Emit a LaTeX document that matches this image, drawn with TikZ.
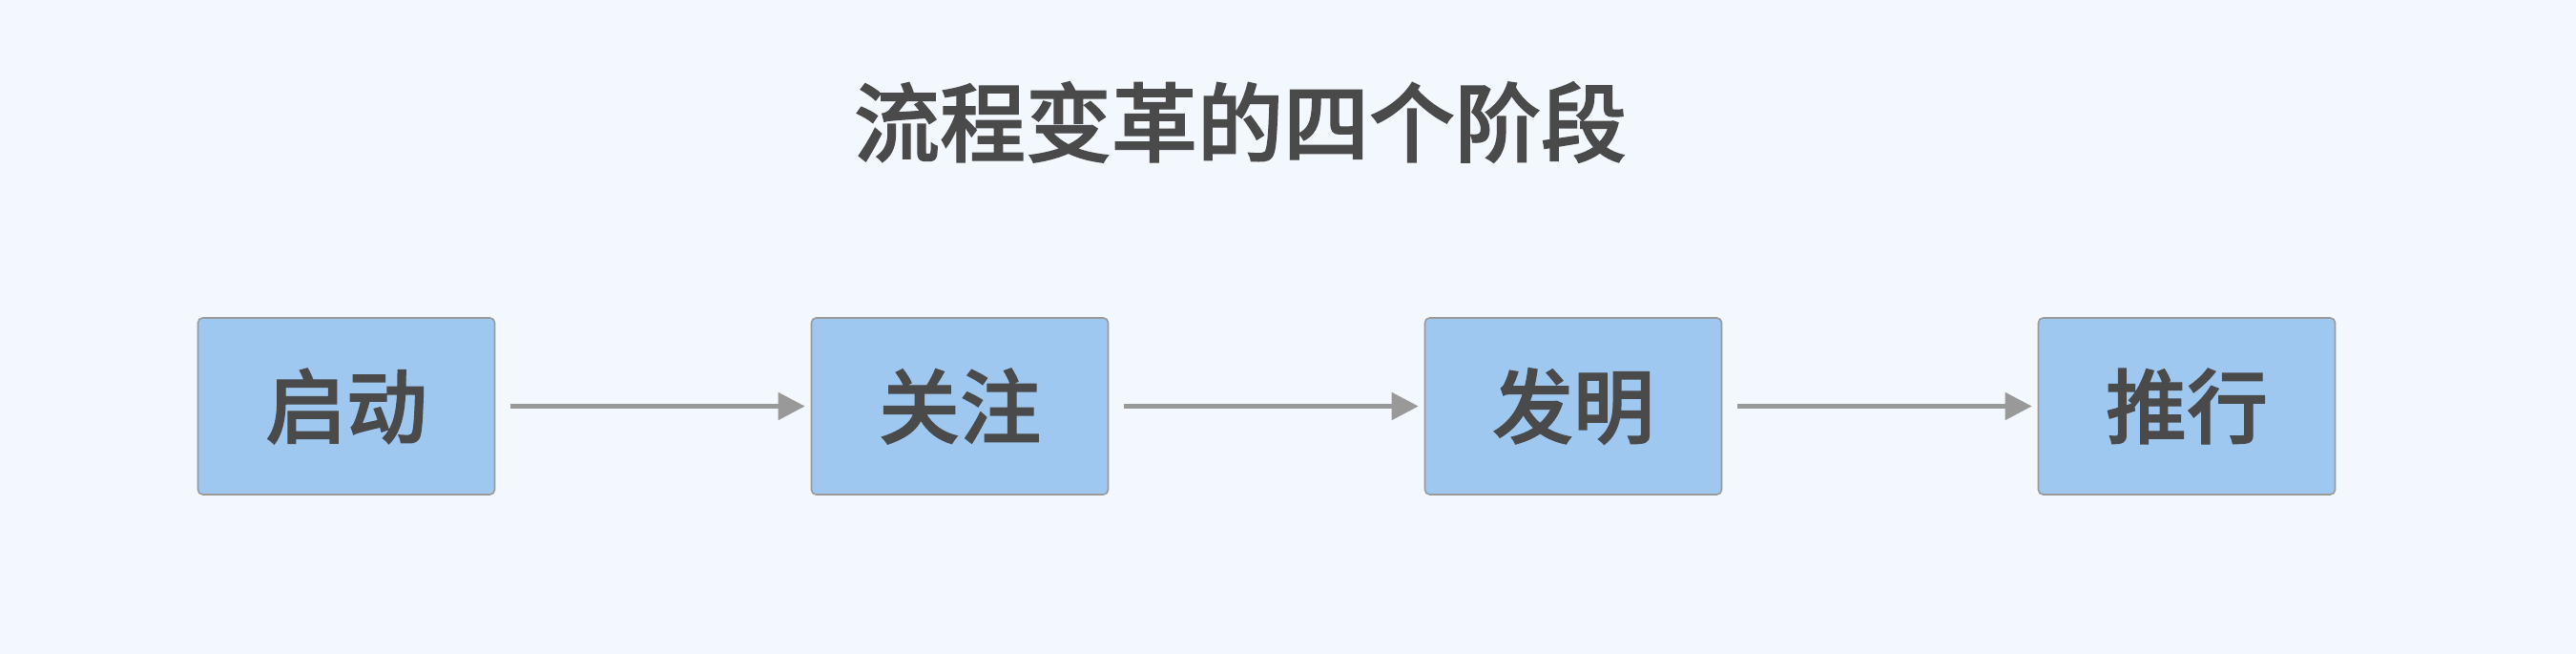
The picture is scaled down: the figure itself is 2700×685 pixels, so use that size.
\documentclass[tikz,border=0pt]{standalone}
\usepackage{fontspec}
\usetikzlibrary{arrows.meta}
\newfontfamily\cjk{Noto Sans CJK SC}[BoldFont={Noto Sans CJK SC Medium}, BoldFeatures={FakeBold=1.5}]
\begin{document}
\begin{tikzpicture}[x=0.25pt, y=-0.25pt,
        stage/.style={draw=clb, line width=0.4pt, fill=cl2, rounded corners=1.25pt,
            minimum width=77.75pt, minimum height=46.25pt, inner sep=0pt,
            text=cl1, font=\cjk\bfseries\fontsize{21.25}{25}\selectfont},
        flow/.style={draw=cl3, line width=1.25pt, -{Triangle[length=7pt, width=7pt]},
            shorten <=4pt, shorten >=1.5pt}]
    \definecolor{cl0}{HTML}{F3F7FE}
    \definecolor{cl1}{HTML}{4A4A4A}
    \definecolor{cl2}{HTML}{9FC8F1}
    \definecolor{cl3}{HTML}{999999}
    \definecolor{clb}{HTML}{9A9A9A}
    \fill[cl0] (0,0) rectangle (2700,685);
    \useasboundingbox (0,0) rectangle (2700,685);
    \node[text=cl1, font=\cjk\bfseries\fontsize{22.5}{26}\selectfont] (title) at (1300,128) {流程变革的四个阶段};
    \node[stage] (s1) at (363,425.5) {启动};
    \node[stage] (s2) at (1006,425.5) {关注};
    \node[stage] (s3) at (1649,425.5) {发明};
    \node[stage] (s4) at (2292,425.5) {推行};
    \draw[flow] (s1) -- (s2);
    \draw[flow] (s2) -- (s3);
    \draw[flow] (s3) -- (s4);
\end{tikzpicture}
\end{document}
